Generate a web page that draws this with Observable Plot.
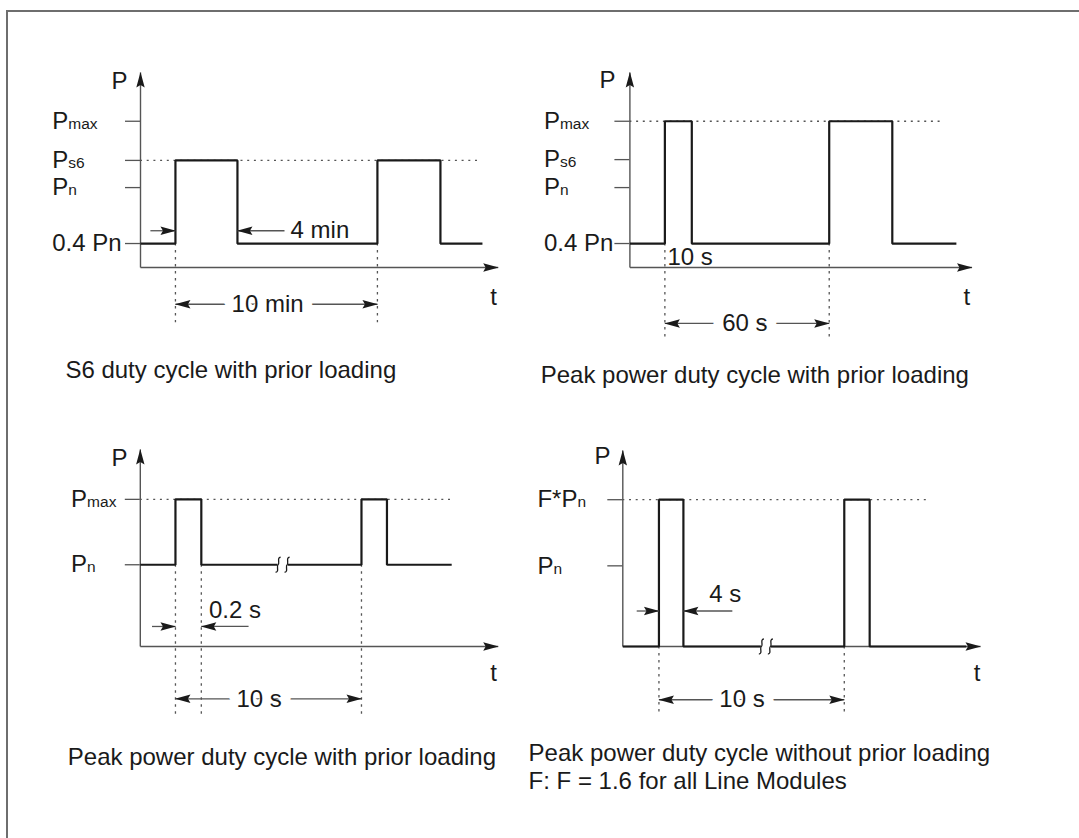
<!DOCTYPE html>
<html>
<head>
<meta charset="utf-8">
<script src="https://cdn.jsdelivr.net/npm/d3@7"></script>
<script src="https://cdn.jsdelivr.net/npm/@observablehq/plot@0.6"></script>
<style>
html, body { margin: 0; padding: 0; background: #fff; overflow: hidden; }
#page { position: relative; width: 1079px; height: 838px; font-family: "Liberation Sans", Arial, sans-serif; color: #1a1a1a; }
#frame { position: absolute; left: 6px; top: 10px; width: 1090px; height: 850px; border-left: 2px solid #6e6e6e; border-top: 2px solid #6e6e6e; }
.panel { position: absolute; }
.cap { position: absolute; font-size: 24px; line-height: 24px; white-space: nowrap; }
.cap2 { line-height: 28px; }
</style>
</head>
<body>
<div id="page"><div id="frame"></div></div>
<script>
// ---------------- DATA (schematic values) ----------------
// Panel 1: S6 duty cycle with prior loading (t in min, P in multiples of Pn as drawn)
const s6LevelLabels = ["0.4 Pn", "P_n", "P_s6", "P_max"];
const s6LevelValues = [0.3, 1.0, 1.34, 1.83];
const s6Time  = [0, 1.73, 1.73, 4.80, 4.80, 11.73, 11.73, 14.85, 14.85, 16.93];
const s6Power = [0.3, 0.3, 1.34, 1.34, 0.3, 0.3, 1.34, 1.34, 0.3, 0.3];
const s6AxisEnds = [17.71, 2.44];          // t-axis end, P-axis end
const s6RefLine = [1.34, 16.77];           // dotted level, dotted end
const s6Guides = [1.73, 11.73];            // dotted verticals
const s6GuideSpan = [0.3, -0.69];
const s6Period = {label: "10 min", from: 1.73, to: 11.73, at: -0.46, labelAt: 6.29};
const s6Pulse = {label: "4 min", tails: [0.49, 7.13], tips: [1.73, 4.80], at: 0.46, labelT: 7.43, labelP: 0.46};

// Panel 2: Peak power duty cycle with prior loading (t in s)
const pk60LevelLabels = ["0.4 Pn", "P_n", "P_s6", "P_max"];
const pk60LevelValues = [0.3, 1.0, 1.35, 1.83];
const pk60Time  = [0, 12.77, 12.77, 22.6, 22.6, 72.77, 72.77, 95.8, 95.8, 119.2];
const pk60Power = [0.3, 0.3, 1.83, 1.83, 0.3, 0.3, 1.83, 1.83, 0.3, 0.3];
const pk60AxisEnds = [124.9, 2.44];
const pk60RefLine = [1.83, 114.2];
const pk60Guides = [12.77, 72.77];
const pk60GuideSpan = [0.3, -0.875];
const pk60Period = {label: "60 s", from: 12.77, to: 72.77, at: -0.7, labelAt: 42.0};
const pk60Note = {label: "10 s", t: 13.7, p: 0.125};

// Panel 3: Peak power duty cycle with prior loading (0.2 s peak, t in s)
const pk10LevelLabels = ["P_n", "P_max"];
const pk10LevelValues = [1.0, 1.8];
const pk10Time  = [0, 1.89, 1.89, 3.28, 3.28, 11.89, 11.89, 13.26, 13.26, 16.74];
const pk10Power = [1, 1, 1.8, 1.8, 1, 1, 1.8, 1.8, 1, 1];
const pk10AxisEnds = [19.24, 2.41];
const pk10RefLine = [1.8, 16.92];
const pk10Guides = [1.89, 3.28, 11.89];
const pk10GuideSpan = [1.0, -0.845];
const pk10Period = {label: "10 s", from: 1.89, to: 11.89, at: -0.64, labelAt: 6.39};
const pk10Pulse = {label: "0.2 s", tails: [0.63, 5.82], tips: [1.89, 3.28], at: 0.245, labelT: 3.69, labelP: 0.44};
const pk10Break = [7.65, 1.0];

// Panel 4: Peak power duty cycle without prior loading (F = 1.6, t in s)
const noPriorLevelLabels = ["P_n", "F*P_n"];
const noPriorLevelValues = [1.0, 1.82];
const noPriorTime  = [0, 1.95, 1.95, 3.27, 3.27, 11.95, 11.95, 13.32, 13.32, 18.53];
const noPriorPower = [0, 0, 1.82, 1.82, 0, 0, 1.82, 1.82, 0, 0];
const noPriorAxisEnds = [19.3, 2.43];
const noPriorRefLine = [1.82, 16.61];
const noPriorGuides = [1.95, 11.95];
const noPriorGuideSpan = [0, -0.855];
const noPriorPeriod = {label: "10 s", from: 1.95, to: 11.95, at: -0.66, labelAt: 6.43};
const noPriorPulse = {label: "4 s", tails: [0.75, 5.91], tips: [1.95, 3.27], at: 0.44, labelT: 4.66, labelP: 0.65};
const noPriorBreak = [7.72, 0];

const captions = [
  ["S6 duty cycle with prior loading"],
  ["Peak power duty cycle with prior loading"],
  ["Peak power duty cycle with prior loading"],
  ["Peak power duty cycle without prior loading", "F: F = 1.6 for all Line Modules"]
];

// ---------------- STYLE ----------------
const INK = "#1a1a1a", AXIS = "#555", GUIDE = "#555";
const FONT = "Liberation Sans, Arial, sans-serif";

function head(color, context) {
  return d3.create("svg:marker")
    .attr("viewBox", "-16 -5 17 10")
    .attr("markerWidth", 17).attr("markerHeight", 10)
    .attr("markerUnits", "userSpaceOnUse")
    .attr("orient", "auto")
    .attr("overflow", "visible")
    .call(m => m.append("path").attr("d", "M0.5,0L-15,-4.2L-12.5,0L-15,4.2Z").attr("fill", INK).attr("stroke", "none"))
    .node();
}

// break mark: two small S-strokes interrupting the line
const breakErase = {draw(ctx) { ctx.moveTo(-5, -2.5); ctx.lineTo(5, -2.5); ctx.lineTo(5, 2.5); ctx.lineTo(-5, 2.5); ctx.closePath(); }};
const breakStrokes = {draw(ctx) {
  for (const cx of [-4.5, 4.5]) {
    ctx.moveTo(cx + 2.5, -7.5);
    ctx.bezierCurveTo(cx - 1.5, -7.5, cx + 2, -1, cx, 0);
    ctx.bezierCurveTo(cx - 2, 1, cx + 1.5, 7.5, cx - 2.5, 7.5);
  }
}};

function subscripts(svg) {
  svg.querySelectorAll("text").forEach(el => {
    const s = el.textContent;
    if (!s.includes("_")) return;
    const [a, b] = s.split("_");
    el.textContent = a;
    const ts = document.createElementNS("http://www.w3.org/2000/svg", "tspan");
    ts.setAttribute("font-size", "15.5");
    ts.textContent = b;
    el.appendChild(ts);
  });
}

function panel(cfg) {
  const [tMax, pMax] = cfg.axisEnds;
  const wave = cfg.time.map((t, i) => ({t, p: cfg.power[i]}));
  const ticks = cfg.levelValues.map((v, i) => ({v, label: cfg.levelLabels[i]}));
  const marks = [
    // dotted reference level
    Plot.ruleY([cfg.refLine[0]], {y: d => d, x1: 0, x2: cfg.refLine[1], stroke: GUIDE, strokeWidth: 1.3, strokeDasharray: "2,4.7"}),
    // dotted vertical guides
    Plot.ruleX(cfg.guides, {x: d => d, y1: cfg.guideSpan[0], y2: cfg.guideSpan[1], stroke: GUIDE, strokeWidth: 1.3, strokeDasharray: "2.5,4.5"}),
    // axes with arrowheads
    Plot.link([0], {x1: 0, x2: 0, y1: 0, y2: pMax, stroke: AXIS, strokeWidth: 1.4, markerEnd: head}),
    Plot.link([0], {x1: 0, x2: tMax, y1: 0, y2: 0, stroke: AXIS, strokeWidth: 1.4, markerEnd: head}),
    Plot.axisY(cfg.levelValues, {tickSize: 15, tickFormat: () => "", stroke: AXIS, strokeWidth: 1.3, label: null}),
    Plot.text(ticks, {y: "v", text: "label", frameAnchor: "left", textAnchor: "start", lineAnchor: "middle", dx: cfg.labelDx, fontSize: 24, fill: INK}),
    // waveform
    Plot.line(wave, {x: "t", y: "p", stroke: INK, strokeWidth: 2.2, strokeLinejoin: "miter", strokeLinecap: "butt"}),
    // period dimension
    Plot.link([cfg.period.from, cfg.period.to], {x1: () => cfg.period.labelAt, x2: d => d, y1: cfg.period.at, y2: cfg.period.at, stroke: AXIS, strokeWidth: 1.3, markerEnd: head}),
    Plot.text([cfg.period], {x: "labelAt", y: "at", text: "label", fontSize: 24, fill: INK, stroke: "white", strokeWidth: 20, strokeLinejoin: "round"}),
    // axis names
    Plot.text(["P"], {text: d => d, frameAnchor: "top-left", textAnchor: "middle", lineAnchor: "middle", dx: cfg.pPos[0], dy: cfg.pPos[1], fontSize: 24, fill: INK}),
    Plot.text(["t"], {text: d => d, frameAnchor: "bottom-right", textAnchor: "middle", lineAnchor: "middle", dx: cfg.tPos[0], dy: cfg.tPos[1], fontSize: 24, fill: INK})
  ];
  if (cfg.pulse) {
    const pa = cfg.pulse.tails.map((t, i) => ({t1: t, t2: cfg.pulse.tips[i]}));
    marks.push(
      Plot.link(pa, {x1: "t1", x2: "t2", y1: cfg.pulse.at, y2: cfg.pulse.at, stroke: AXIS, strokeWidth: 1.3, markerEnd: head}),
      Plot.text([cfg.pulse], {x: "labelT", y: "labelP", text: "label", textAnchor: "start", fontSize: 24, fill: INK})
    );
  }
  if (cfg.note) {
    marks.push(Plot.text([cfg.note], {x: "t", y: "p", text: "label", textAnchor: "start", fontSize: 24, fill: INK}));
  }
  if (cfg.brk) {
    marks.push(
      Plot.dot([cfg.brk], {x: d => d[0], y: d => d[1], symbol: breakErase, r: 5, fill: "white", stroke: "none"}),
      Plot.dot([cfg.brk], {x: d => d[0], y: d => d[1], symbol: breakStrokes, r: 5, fill: "none", stroke: INK, strokeWidth: 1.3})
    );
  }
  const svg = Plot.plot({
    width: cfg.width, height: cfg.height,
    marginLeft: cfg.m[0], marginRight: cfg.m[1], marginTop: cfg.m[2], marginBottom: cfg.m[3],
    x: {domain: [0, tMax], axis: null},
    y: {domain: [0, pMax]},
    style: {background: "transparent", overflow: "visible", maxWidth: "none", fontFamily: FONT, color: INK},
    marks
  });
  subscripts(svg);
  return svg;
}

const page = document.getElementById("page");
function place(node, left, top) {
  const d = document.createElement("div");
  d.className = "panel";
  d.style.left = left + "px"; d.style.top = top + "px";
  d.appendChild(node);
  page.appendChild(d);
}

place(panel({
  width: 540, height: 380, m: [140, 42.3, 72, 113],
  levelLabels: s6LevelLabels, levelValues: s6LevelValues, time: s6Time, power: s6Power,
  axisEnds: s6AxisEnds, refLine: s6RefLine, guides: s6Guides, guideSpan: s6GuideSpan,
  period: s6Period, pulse: s6Pulse, labelDx: -88.3, pPos: [-21, 8.5], tPos: [-4.7, 30]
}), 0, 0);

place(panel({
  width: 539, height: 380, m: [89.4, 107.5, 72, 113],
  levelLabels: pk60LevelLabels, levelValues: pk60LevelValues, time: pk60Time, power: pk60Power,
  axisEnds: pk60AxisEnds, refLine: pk60RefLine, guides: pk60Guides, guideSpan: pk60GuideSpan,
  period: pk60Period, note: pk60Note, labelDx: -86, pPos: [-22.4, 7.5], tPos: [-5.2, 30]
}), 540, 0);

place(panel({
  width: 540, height: 458, m: [139.8, 42.3, 69, 192],
  levelLabels: pk10LevelLabels, levelValues: pk10LevelValues, time: pk10Time, power: pk10Power,
  axisEnds: pk10AxisEnds, refLine: pk10RefLine, guides: pk10Guides, guideSpan: pk10GuideSpan,
  period: pk10Period, pulse: pk10Pulse, brk: pk10Break, labelDx: -69.2, pPos: [-20.8, 8.5], tPos: [-4.5, 27]
}), 0, 380);

place(panel({
  width: 539, height: 458, m: [82.3, 99, 70, 192],
  levelLabels: noPriorLevelLabels, levelValues: noPriorLevelValues, time: noPriorTime, power: noPriorPower,
  axisEnds: noPriorAxisEnds, refLine: noPriorRefLine, guides: noPriorGuides, guideSpan: noPriorGuideSpan,
  period: noPriorPeriod, pulse: noPriorPulse, brk: noPriorBreak, labelDx: -85.4, pPos: [-20.3, 5.5], tPos: [-3.4, 27]
}), 540, 380);

// captions
const capPos = [[65.4, 357.7, ""], [540.7, 362.7, ""], [67.8, 744.7, ""], [528.6, 739.4, "cap2"]];
captions.forEach((lines, i) => {
  const d = document.createElement("div");
  d.className = "cap " + capPos[i][2];
  d.style.left = capPos[i][0] + "px"; d.style.top = capPos[i][1] + "px";
  lines.forEach((l, j) => { if (j) d.appendChild(document.createElement("br")); d.appendChild(document.createTextNode(l)); });
  page.appendChild(d);
});
</script>
</body>
</html>
